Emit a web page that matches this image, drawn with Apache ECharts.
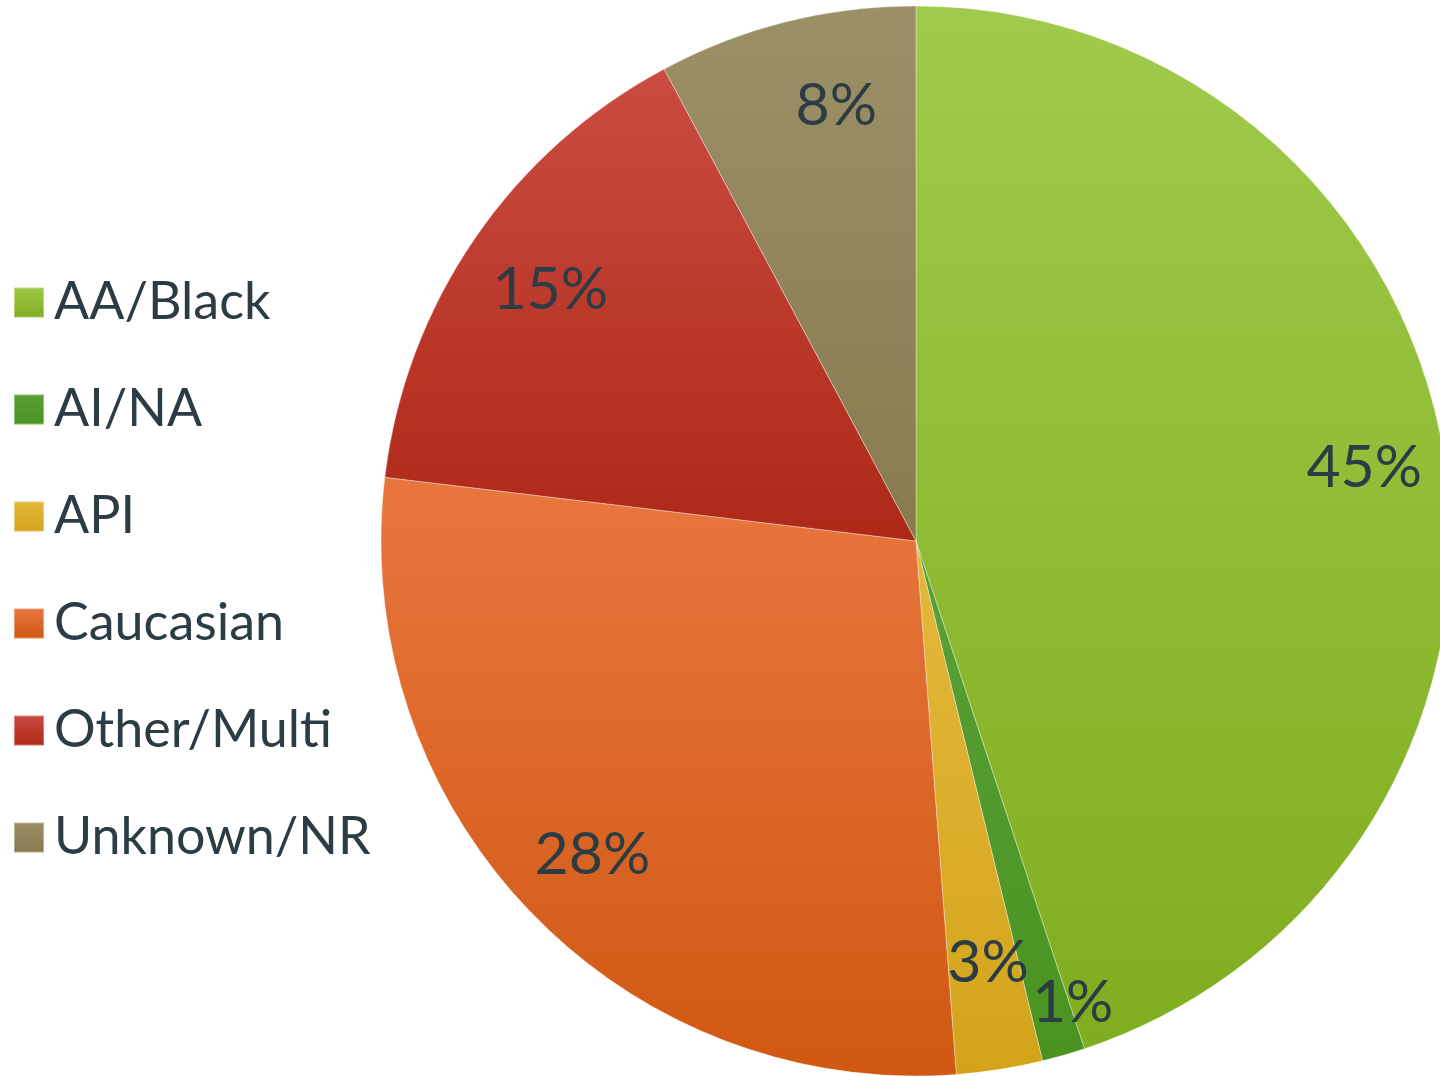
<!DOCTYPE html>
<html>
<head>
<meta charset="utf-8">
<script src="https://cdn.jsdelivr.net/npm/echarts@6/dist/echarts.min.js"></script>
<style>
  html, body { margin: 0; padding: 0; background: #fff; }
  #chart { width: 1440px; height: 1076px; }
</style>
</head>
<body>
<div id="chart"></div>
<script>
const categories = ['AA/Black', 'AI/NA', 'API', 'Caucasian', 'Other/Multi', 'Unknown/NR'];
const shares = [44.9, 1.3, 2.6, 28.1, 15.3, 7.8];
const topColors = ['#a0ca4b', '#5aa038', '#e4b83c', '#e8763f', '#ca4c42', '#9c9068'];
const bottomColors = ['#80ad1f', '#4a931f', '#d3a41a', '#d05812', '#ae2816', '#897a4e'];
// small nudges for labels that sit off the common radius
const labelNudge = [[6, -2], [33, 31], [2, -21], [0, 4], [4, 2], [29, 0]];

const center = [916, 541];
const textColor = '#2c3c45';

const pieData = categories.map((name, i) => ({
    name,
    value: shares[i],
    itemStyle: {
        color: new echarts.graphic.LinearGradient(0, 0, 0, 1, [
            { offset: 0, color: topColors[i] },
            { offset: 1, color: bottomColors[i] },
        ]),
    },
}));

const chart = echarts.init(document.getElementById('chart'));
chart.setOption({
    animation: false,
    legend: {
        orient: 'vertical',
        left: 13,
        top: 274,
        padding: 0,
        itemWidth: 30,
        itemHeight: 30,
        itemGap: 50,
        icon: 'rect',
        data: categories,
        textStyle: {
            fontFamily: 'Lato',
            fontSize: 52,
            lineHeight: 57,
            color: textColor,
            padding: [0, 0, 0, 5],
        },
    },
    series: [
        {
            name: 'Race',
            type: 'pie',
            center,
            radius: 535,
            startAngle: 90,
            clockwise: true,
            silent: true,
            label: { show: false },
            labelLine: { show: false },
            itemStyle: { borderColor: 'rgba(255,255,255,0.35)', borderWidth: 1 },
            data: pieData,
        },
        {
            name: 'labels',
            type: 'pie',
            center,
            radius: [400, 490],
            startAngle: 90,
            clockwise: true,
            silent: true,
            itemStyle: { color: 'transparent' },
            label: {
                show: true,
                position: 'inside',
                fontFamily: 'Lato',
                fontSize: 59,
                color: textColor,
                formatter: (p) => Math.round(p.value) + '%',
            },
            labelLayout: (p) => ({ dx: labelNudge[p.dataIndex][0], dy: labelNudge[p.dataIndex][1] }),
            labelLine: { show: false },
            data: categories.map((name, i) => ({ name, value: shares[i] })),
        },
    ],
});
</script>
</body>
</html>
